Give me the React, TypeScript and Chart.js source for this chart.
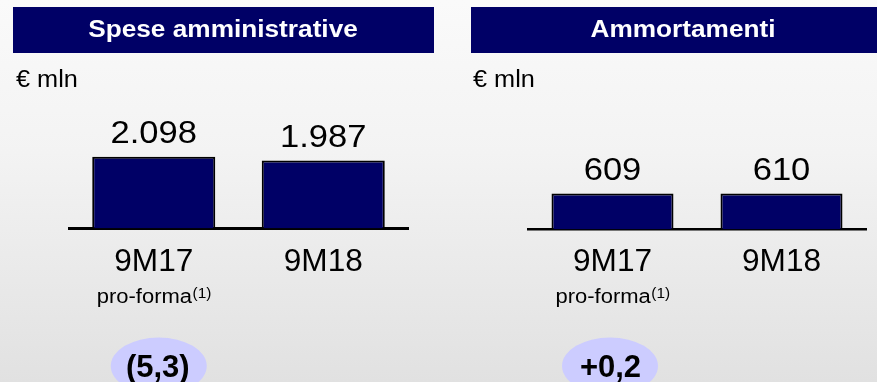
import React, { useEffect, useRef } from "react";
import { Chart, registerables } from "chart.js";

Chart.register(...registerables);

// ---- data ----
const categories = ["9M17", "9M18"];
const categoryNotes = ["pro-forma", ""];
const categoryNoteRefs = ["(1)", ""];
const titles = ["Spese amministrative", "Ammortamenti"];
const unitLabel = "€ mln";
const speseValues = [2098, 1987];
const speseValueLabels = ["2.098", "1.987"];
const ammValues = [609, 610];
const ammValueLabels = ["609", "610"];
const speseDelta = "(5,3)";
const ammDelta = "+0,2";

const FONT = '"Liberation Sans", Arial, Helvetica, sans-serif';
const NAVY = "#000066";

type Panel = {
  title: string;
  values: number[];
  valueLabels: string[];
  delta: string;
  left: number;
  width: number;
  pad: { left: number; right: number; top: number; bottom: number };
  yMax: number;
  barPct: number;
  axisWidth: number;
  header: { x: number; w: number; tx: number };
  unitX: number;
  deltaDx: number;
  deltaTextDx: number;
};

const panels: Panel[] = [
  {
    title: titles[0],
    values: speseValues,
    valueLabels: speseValueLabels,
    delta: speseDelta,
    left: 0,
    width: 440,
    pad: { left: 69, right: 32, top: 57.4, bottom: 153.5 },
    yMax: 5000,
    barPct: 0.726,
    axisWidth: 3,
    header: { x: 13, w: 421, tx: 223 },
    unitX: 16,
    deltaDx: 5,
    deltaTextDx: 4,
  },
  {
    title: titles[1],
    values: ammValues,
    valueLabels: ammValueLabels,
    delta: ammDelta,
    left: 440,
    width: 437,
    pad: { left: 88, right: 11, top: 81.7, bottom: 152.5 },
    yMax: 2500,
    barPct: 0.722,
    axisWidth: 2.5,
    header: { x: 31, w: 406, tx: 243 },
    unitX: 33,
    deltaDx: -2.5,
    deltaTextDx: -2,
  },
];

function drawText(
  ctx: CanvasRenderingContext2D,
  text: string,
  x: number,
  y: number,
  font: string,
  color: string,
  sx: number,
  align: CanvasTextAlign = "center"
) {
  ctx.save();
  ctx.font = font;
  ctx.fillStyle = color;
  ctx.textAlign = align;
  ctx.textBaseline = "alphabetic";
  ctx.translate(x, y);
  ctx.scale(sx, 1);
  ctx.fillText(text, 0, 0);
  ctx.restore();
}

function makePlugin(p: Panel) {
  return {
    id: "decor",
    beforeDraw(chart: any) {
      const ctx: CanvasRenderingContext2D = chart.ctx;
      // header bar
      ctx.save();
      ctx.fillStyle = NAVY;
      ctx.fillRect(p.header.x, 7, p.header.w, 46);
      ctx.restore();
      drawText(ctx, p.title, p.header.tx, 37, `bold 23px ${FONT}`, "#ffffff", 1.14);
      drawText(ctx, unitLabel, p.unitX, 86.5, `23px ${FONT}`, "#000000", 1.1, "left");
      // delta ellipse
      const x0 = chart.scales.x.getPixelForValue(0);
      ctx.save();
      ctx.fillStyle = "#ccccff";
      ctx.beginPath();
      ctx.ellipse(x0 + p.deltaDx, 366, 48, 28.5, 0, 0, Math.PI * 2);
      ctx.fill();
      ctx.restore();
      drawText(ctx, p.delta, x0 + p.deltaTextDx, 377, `bold 31px ${FONT}`, "#000000", 1.0);
    },
    afterDatasetsDraw(chart: any) {
      const ctx: CanvasRenderingContext2D = chart.ctx;
      const meta = chart.getDatasetMeta(0);
      meta.data.forEach((bar: any, i: number) => {
        drawText(ctx, p.valueLabels[i], bar.x, bar.y - 13.5, `32px ${FONT}`, "#000000", 1.08);
      });
      const xs = chart.scales.x;
      categories.forEach((c, i) => {
        const cx = xs.getPixelForValue(i);
        drawText(ctx, c, cx, 271, `31px ${FONT}`, "#000000", 1.02);
        if (categoryNotes[i]) {
          const sx = 1.1;
          const sx2 = 1.1;
          ctx.save();
          ctx.font = `20px ${FONT}`;
          const w1 = ctx.measureText(categoryNotes[i]).width * sx;
          ctx.font = `14px ${FONT}`;
          const w2 = ctx.measureText(categoryNoteRefs[i]).width * sx2;
          ctx.restore();
          const start = cx - (w1 + w2) / 2;
          drawText(ctx, categoryNotes[i], start, 302.5, `20px ${FONT}`, "#000000", sx, "left");
          drawText(ctx, categoryNoteRefs[i], start + w1 + 0.5, 297.5, `14px ${FONT}`, "#000000", sx2, "left");
        }
      });
    },
  };
}

function PanelChart({ p }: { p: Panel }) {
  const ref = useRef<HTMLCanvasElement | null>(null);
  useEffect(() => {
    if (!ref.current) return;
    const chart = new Chart(ref.current, {
      type: "bar",
      data: {
        labels: categories,
        datasets: [
          {
            data: p.values,
            backgroundColor: NAVY,
            borderColor: "#000000",
            borderWidth: 2,
            borderSkipped: "bottom",
            categoryPercentage: 1,
            barPercentage: p.barPct,
          },
        ],
      },
      options: {
        animation: false,
        responsive: false,
        devicePixelRatio: 1,
        layout: { padding: p.pad },
        plugins: { legend: { display: false }, tooltip: { enabled: false } },
        scales: {
          x: {
            display: true,
            offset: true,
            grid: { display: false, drawTicks: false },
            ticks: { display: false },
            border: { display: true, color: "#000000", width: p.axisWidth },
          },
          y: { display: false, min: 0, max: p.yMax },
        },
      },
      plugins: [makePlugin(p)],
    } as any);
    return () => chart.destroy();
  }, [p]);
  return (
    <canvas
      ref={ref}
      width={p.width}
      height={382}
      style={{ position: "absolute", left: p.left, top: 0, width: p.width, height: 382 }}
    />
  );
}

export default function App() {
  return (
    <div
      style={{
        position: "fixed",
        left: 0,
        top: 0,
        width: 877,
        height: 382,
        overflow: "hidden",
        background: "linear-gradient(to bottom, #fafafa 0%, #f3f3f3 40%, #e1e1e1 100%)",
      }}
    >
      {panels.map((p, i) => (
        <PanelChart key={i} p={p} />
      ))}
    </div>
  );
}
